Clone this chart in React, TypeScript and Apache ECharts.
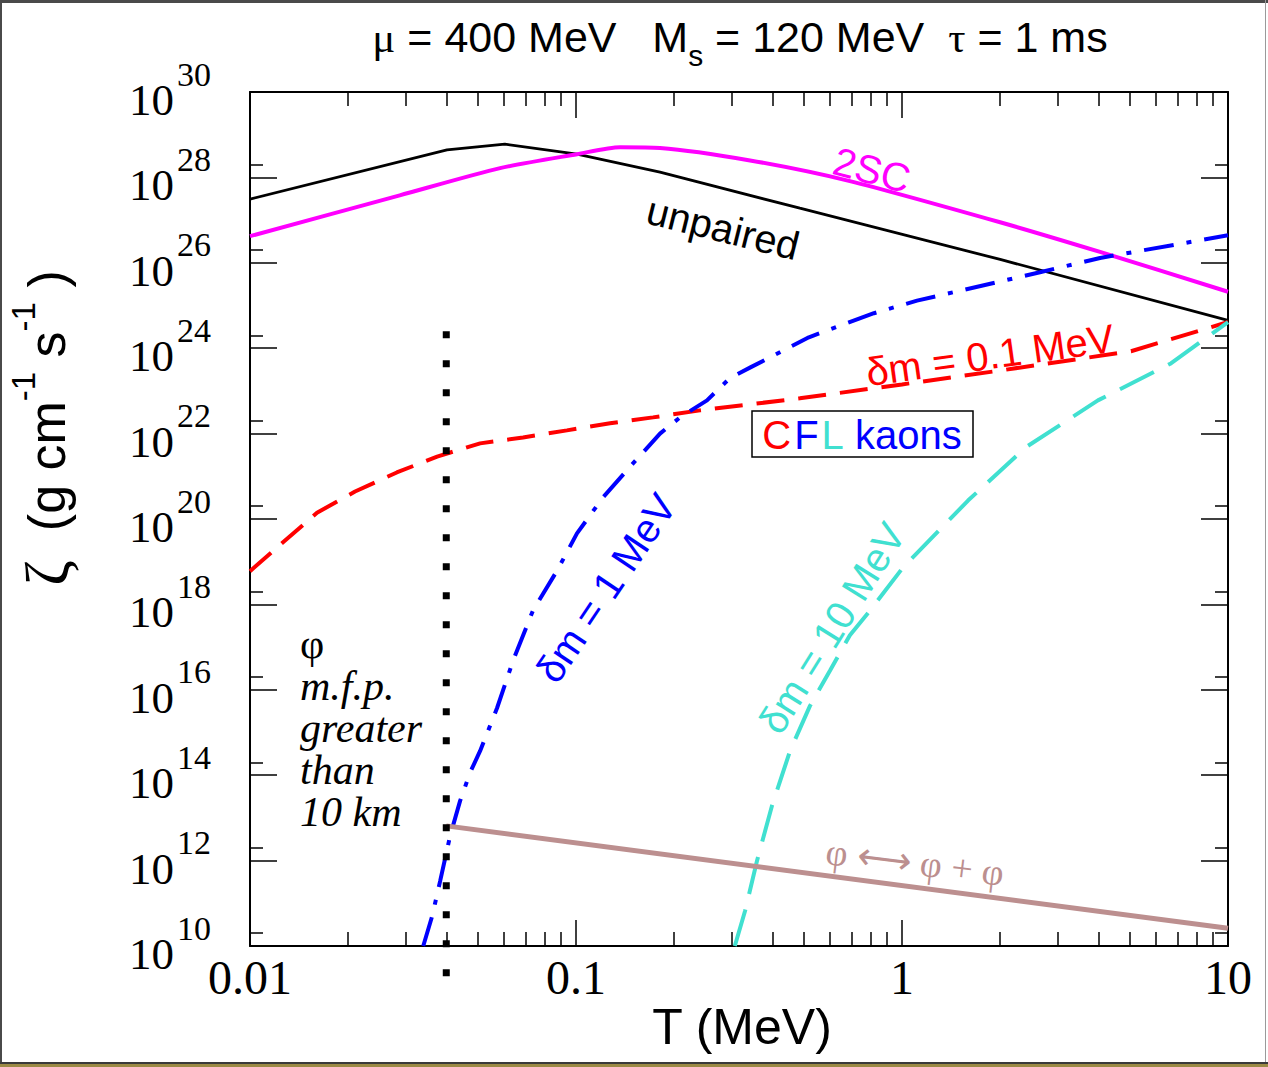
import React, { useEffect, useRef } from "react";
import * as echarts from "echarts";

// Temperature T (MeV) and bulk viscosity zeta (g cm^-1 s^-1)
const T_UNPAIRED = [0.01, 0.0402, 0.0605, 0.1007, 0.181, 0.486, 2.0, 10];
const Z_UNPAIRED = [3.1e27, 4.4e28, 6.0e28, 3.5e28, 1.33e28, 1.9e27, 1.2e26, 4.5e24];

const T_2SC = [0.01, 0.0288, 0.0585, 0.1007, 0.1365, 0.181, 0.342, 0.692, 2.0, 4.05, 10];
const Z_2SC = [4.2e26, 3.8e27, 1.65e28, 3.5e28, 5.1e28, 4.9e28, 2.5e28, 8.2e27, 8.9e26, 1.8e26, 2.1e25];

const T_DM01 = [0.01, 0.0126, 0.01605, 0.021, 0.0282, 0.0375, 0.0508, 0.0688, 0.0938, 0.1272, 0.1723, 0.24, 0.486, 1.0, 2.0, 5.04, 10];
const Z_DM01 = [6.0e18, 2.8e19, 1.4e20, 4.4e20, 1.23e21, 2.9e21, 5.9e21, 8.1e21, 1.19e22, 1.74e22, 2.4e22, 3.5e22, 6.7e22, 1.42e23, 3.0e23, 8.5e23, 4.1e24];

const T_DM1 = [0.034, 0.0362, 0.0383, 0.0411, 0.0441, 0.0473, 0.0508, 0.0573, 0.0641, 0.0738, 0.0875, 0.1007, 0.121, 0.1496, 0.181, 0.2085, 0.2523, 0.2966, 0.344, 0.518, 0.82, 1.112, 2.65, 4.05, 10];
const Z_DM1 = [1.0e10, 5.0e10, 3.3e11, 3.8e12, 2.5e13, 1.14e14, 3.7e14, 3.8e15, 4.8e16, 7.2e17, 6.2e18, 4.6e19, 3.2e20, 2.0e21, 1.0e22, 2.4e22, 6.0e22, 2.0e23, 3.6e23, 1.8e24, 6.6e24, 1.3e25, 6.0e25, 1.3e26, 4.4e26];

const T_DM10 = [0.307, 0.33, 0.359, 0.399, 0.4535, 0.522, 0.601, 0.692, 0.798, 1.007, 1.594, 2.4, 3.99, 6.68, 10];
const Z_DM10 = [1.0e10, 6.6e10, 9.8e11, 1.9e13, 3.7e14, 4.2e15, 2.8e16, 1.9e17, 7.2e17, 7.3e18, 2.7e20, 4.8e21, 6.0e22, 4.4e23, 4.1e24];

const T_PHI = [0.04, 10];
const Z_PHI = [6.5e12, 2.6e10];

const T_MFP = [0.04, 0.04];
const Z_MFP = [2.5e24, 1.3e9];

// Axes
const X_TICKS = [0.01, 0.1, 1, 10];
const X_TICK_LABELS = ["0.01", "0.1", "1", "10"];
const X_MINOR_TICKS = [0.02, 0.03, 0.04, 0.05, 0.06, 0.07, 0.08, 0.09, 0.2, 0.3, 0.4, 0.5, 0.6, 0.7, 0.8, 0.9, 2, 3, 4, 5, 6, 7, 8, 9];
const Y_EXPONENTS = [10, 12, 14, 16, 18, 20, 22, 24, 26, 28, 30];
const Y_MINOR_TICKS = [2e10, 2e12, 2e14, 2e16, 2e18, 2e20, 2e22, 2e24, 2e26, 2e28];

const MFP_LINES = ["φ", "m.f.p.", "greater", "than", "10 km"];

const lg = Math.log10;
const pts = (xs: number[], ys: number[]) => xs.map((x, i) => [lg(x), lg(ys[i])]);

const SANS = "Liberation Sans";
const SERIF = "Liberation Serif";

export default function App() {
  const ref = useRef<HTMLDivElement>(null);
  useEffect(() => {
    const chart = echarts.init(ref.current!, null, { renderer: "svg" });
    const axisLine = { show: true, onZero: false, lineStyle: { color: "#000", width: 2 } };
    const noLine = { show: false, onZero: false };
    const tick = { color: "#000", width: 1.5 };
    const xMin = lg(X_TICKS[0]);
    const xMax = lg(X_TICKS[X_TICKS.length - 1]);
    const yMin = Y_EXPONENTS[0];
    const yMax = Y_EXPONENTS[Y_EXPONENTS.length - 1];
    const xBase = { type: "value", min: xMin, max: xMax, splitLine: { show: false } };
    const yBase = { type: "value", min: yMin, max: yMax, splitLine: { show: false } };
    const xMinor = X_MINOR_TICKS.map(lg);
    const yMinor = Y_MINOR_TICKS.map(lg);

    const option: any = {
      animation: false,
      backgroundColor: "#fff",
      grid: { left: 250, right: 40, top: 92, bottom: 121, outerBoundsMode: "none" },
      xAxis: [
        {
          ...xBase, position: "bottom", interval: 1, axisLine,
          axisTick: { show: true, inside: true, length: 26, lineStyle: tick },
          axisLabel: {
            margin: 7, color: "#000", fontFamily: SERIF, fontSize: 48,
            formatter: (v: number) => {
              const i = X_TICKS.findIndex((t) => Math.abs(lg(t) - v) < 1e-6);
              return i >= 0 ? X_TICK_LABELS[i] : "";
            },
          },
        },
        {
          ...xBase, position: "bottom", axisLine: noLine,
          axisTick: { show: true, inside: true, length: 14, lineStyle: tick, customValues: xMinor },
          axisLabel: { show: false },
        },
        {
          ...xBase, position: "top", interval: 1, axisLine,
          axisTick: { show: true, inside: true, length: 26, lineStyle: tick },
          axisLabel: { show: false },
        },
        {
          ...xBase, position: "top", axisLine: noLine,
          axisTick: { show: true, inside: true, length: 14, lineStyle: tick, customValues: xMinor },
          axisLabel: { show: false },
        },
      ],
      yAxis: [
        {
          ...yBase, position: "left", interval: 2, axisLine,
          axisTick: { show: true, inside: true, length: 27, lineStyle: tick },
          axisLabel: {
            margin: 39, padding: [16, 0, 0, 0],
            formatter: (v: number) => `{b|10}{s|${Math.round(v)}}`,
            rich: {
              b: { fontFamily: SERIF, fontSize: 45, lineHeight: 86, color: "#000" },
              s: { fontFamily: SERIF, fontSize: 34, lineHeight: 30, verticalAlign: "top", color: "#000", padding: [0, 0, 0, 3] },
            },
          },
        },
        {
          ...yBase, position: "left", axisLine: noLine,
          axisTick: { show: true, inside: true, length: 13, lineStyle: tick, customValues: yMinor },
          axisLabel: { show: false },
        },
        {
          ...yBase, position: "right", interval: 2, axisLine,
          axisTick: { show: true, inside: true, length: 27, lineStyle: tick },
          axisLabel: { show: false },
        },
        {
          ...yBase, position: "right", axisLine: noLine,
          axisTick: { show: true, inside: true, length: 13, lineStyle: tick, customValues: yMinor },
          axisLabel: { show: false },
        },
      ],
      series: [
        {
          type: "line", name: "unpaired", data: pts(T_UNPAIRED, Z_UNPAIRED), symbol: "none",
          lineStyle: { color: "#000", width: 2.8 },
        },
        {
          type: "line", name: "2SC", data: pts(T_2SC, Z_2SC), symbol: "none", smooth: 0.25,
          lineStyle: { color: "#ff00ff", width: 4 },
        },
        {
          type: "line", name: "dm=0.1", data: pts(T_DM01, Z_DM01), symbol: "none",
          lineStyle: { color: "#ff0000", width: 4, type: [28, 14], cap: "butt" },
        },
        {
          type: "line", name: "dm=1", data: pts(T_DM1, Z_DM1), symbol: "none",
          lineStyle: { color: "#0000ff", width: 4, type: [30, 13, 5, 13], cap: "butt" },
        },
        {
          type: "line", name: "dm=10", data: pts(T_DM10, Z_DM10), symbol: "none",
          lineStyle: { color: "#40e0d0", width: 4, type: [38, 16], cap: "butt" },
        },
        {
          type: "line", name: "phi", data: pts(T_PHI, Z_PHI), symbol: "none",
          lineStyle: { color: "#bc8f8f", width: 5 },
        },
        {
          type: "line", name: "mfp", data: pts(T_MFP, Z_MFP), symbol: "none", clip: false,
          lineStyle: { color: "#000", width: 7, type: [7, 22], cap: "butt" },
        },
      ],
      graphic: [
        {
          type: "text", x: 740, y: 37,
          style: {
            text: "{g|μ}{n| = 400 MeV   M}{b|s}{n| = 120 MeV  }{g|τ}{n| = 1 ms}",
            align: "center", verticalAlign: "middle",
            rich: {
              n: { fontFamily: SANS, fontSize: 43, lineHeight: 66, fill: "#000" },
              g: { fontFamily: SERIF, fontSize: 43, lineHeight: 66, fill: "#000" },
              b: { fontFamily: SANS, fontSize: 30, lineHeight: 40, verticalAlign: "bottom", fill: "#000" },
            },
          },
        },
        {
          type: "text", x: 742, y: 1027,
          style: { text: "T (MeV)", fontFamily: SANS, fontSize: 50, fill: "#000", align: "center", verticalAlign: "middle" },
        },
        {
          type: "text", x: 47, y: 428, rotation: Math.PI / 2,
          style: {
            text: "{z|ζ}{t|  (g cm}{p|-1}{t| s}{p|-1}{t| )}",
            align: "center", verticalAlign: "middle",
            rich: {
              z: { fontFamily: SERIF, fontSize: 62, lineHeight: 80, fill: "#000" },
              t: { fontFamily: SANS, fontSize: 52, lineHeight: 80, fill: "#000" },
              p: { fontFamily: SANS, fontSize: 33, lineHeight: 34, verticalAlign: "top", fill: "#000" },
            },
          },
        },
        {
          type: "text", x: 723, y: 228, rotation: (-14 * Math.PI) / 180,
          style: { text: "unpaired", fontFamily: SANS, fontSize: 40, fill: "#000", align: "center", verticalAlign: "middle" },
        },
        {
          type: "text", x: 872, y: 170, rotation: (-15 * Math.PI) / 180,
          style: { text: "2SC", fontFamily: SANS, fontSize: 40, fill: "#ff00ff", align: "center", verticalAlign: "middle" },
        },
        {
          type: "text", x: 990, y: 355, rotation: (8 * Math.PI) / 180,
          style: { text: "δm = 0.1 MeV", fontFamily: SANS, fontSize: 40, fill: "#ff0000", align: "center", verticalAlign: "middle" },
        },
        {
          type: "text", x: 606, y: 588, rotation: (56 * Math.PI) / 180,
          style: { text: "δm = 1 MeV", fontFamily: SANS, fontSize: 40, fill: "#0000ff", align: "center", verticalAlign: "middle" },
        },
        {
          type: "text", x: 832, y: 628, rotation: (58 * Math.PI) / 180,
          style: { text: "δm = 10 MeV", fontFamily: SANS, fontSize: 40, fill: "#40e0d0", align: "center", verticalAlign: "middle" },
        },
        {
          type: "text", x: 915, y: 862, rotation: (-7 * Math.PI) / 180,
          style: { text: "φ ⟷ φ + φ", fontFamily: SERIF, fontSize: 38, fill: "#bc8f8f", align: "center", verticalAlign: "middle" },
        },
        {
          type: "rect", shape: { x: 752, y: 411, width: 221, height: 46 },
          style: { fill: "#fff", stroke: "#000", lineWidth: 1.5 },
        },
        {
          type: "text", x: 862, y: 435,
          style: {
            text: "{c|C}{f|F}{l|L}{k| kaons}",
            align: "center", verticalAlign: "middle",
            rich: {
              c: { fontFamily: SANS, fontSize: 40, fill: "#ff0000", padding: [0, 3, 0, 0] },
              f: { fontFamily: SANS, fontSize: 40, fill: "#0000ff", padding: [0, 3, 0, 0] },
              l: { fontFamily: SANS, fontSize: 40, fill: "#40e0d0" },
              k: { fontFamily: SANS, fontSize: 40, fill: "#0000ff" },
            },
          },
        },
        ...MFP_LINES.map((line, i) => ({
          type: "text", x: 300, y: 644 + i * 42,
          style: {
            text: line, fontFamily: SERIF, fontSize: 42, fontStyle: i === 0 ? "normal" : "italic",
            fill: "#000", align: "left", verticalAlign: "middle",
          },
        })),
      ],
    };
    chart.setOption(option);
    return () => chart.dispose();
  }, []);

  return (
    <div style={{ position: "absolute", left: 0, top: 0, width: 1268, height: 1067, background: "#fff", overflow: "hidden" }}>
      <div ref={ref} style={{ position: "absolute", left: 0, top: 0, width: 1268, height: 1067 }} />
      <div style={{ position: "absolute", left: 0, top: 0, width: 1268, height: 3, background: "#4a4a4a" }} />
      <div style={{ position: "absolute", left: 0, top: 0, width: 2, height: 1067, background: "#4a4a4a" }} />
      <div style={{ position: "absolute", left: 1265, top: 0, width: 1, height: 1063, background: "#9a9a9a" }} />
      <div style={{ position: "absolute", left: 0, top: 1062, width: 1268, height: 2, background: "#3a3a3a" }} />
      <div style={{ position: "absolute", left: 0, top: 1064, width: 1268, height: 3, background: "#9b8a45" }} />
    </div>
  );
}
